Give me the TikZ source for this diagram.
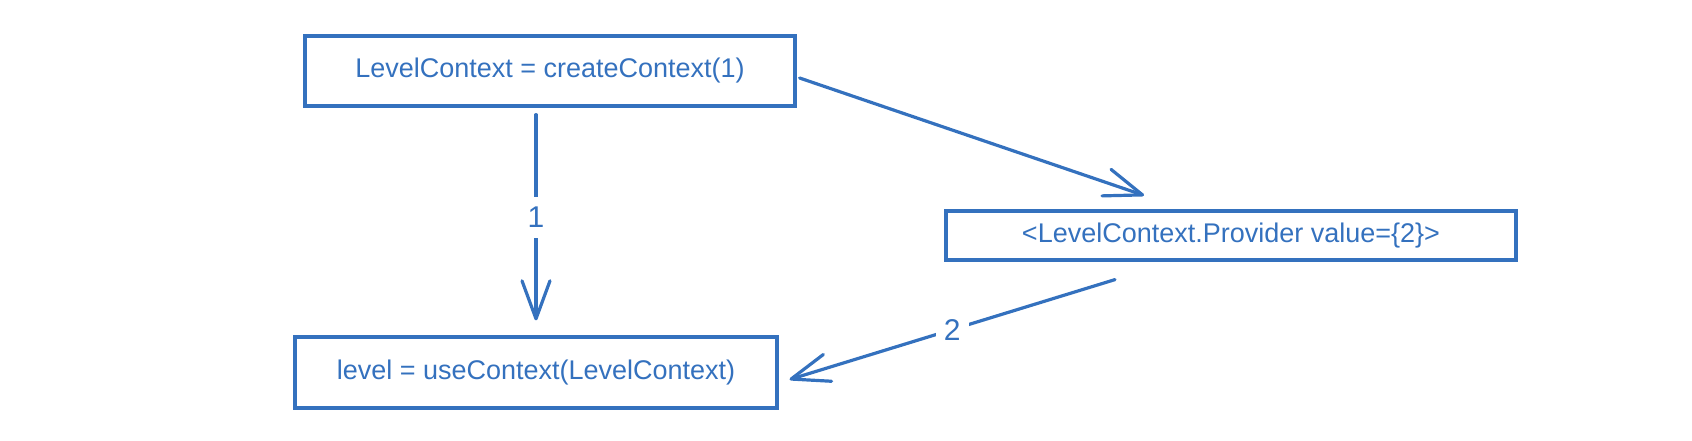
\documentclass[tikz,border=0pt]{standalone}
\usepackage{fontspec}
\setmainfont{Liberation Sans}
\usetikzlibrary{arrows.meta,calc}
\definecolor{pen}{RGB}{52,113,190}
\tikzset{
  box/.style={draw=pen, line width=1.6pt, text=pen, inner sep=0pt, minimum width=#1},
  lbl/.style={text=pen, fill=white, inner sep=5pt, font=\fontsize{15pt}{18pt}\selectfont},
  arr/.style={draw=pen, line width=1.6pt, line cap=round,
    -{Straight Barb[length=19pt,width=14pt,line width=1.6pt,round]}},
}
\begin{document}
\begin{tikzpicture}[x=0.5pt,y=-0.5pt,font=\fontsize{13.5pt}{16pt}\selectfont]
\useasboundingbox (0,0) rectangle (1692,440);
\node[box=245pt, minimum height=35pt] (b1) at (550,71) {LevelContext = createContext(1)};
\node[box=285pt, minimum height=24.5pt] (b2) at (1231,235.5) {<LevelContext.Provider value=\{2\}>};
\node[box=241pt, minimum height=35.5pt] (b3) at (536,372.5) {level = useContext(LevelContext)};
\draw[arr] ($(b1.south -| b3.north)+(0,7)$) -- node[lbl,pos=0.5] (l1) {1} ($(b3.north)+(0,-15)$);
\draw[arr] ($(b1.east)+(3,7)$) -- ($(b2.north)+(-87,-14)$);
\draw[arr] ($(b2.south)+(-116,18)$) -- node[lbl,pos=0.5,inner sep=4pt] (l2) {2} ($(b3.east)+(11,7)$);
\end{tikzpicture}
\end{document}
